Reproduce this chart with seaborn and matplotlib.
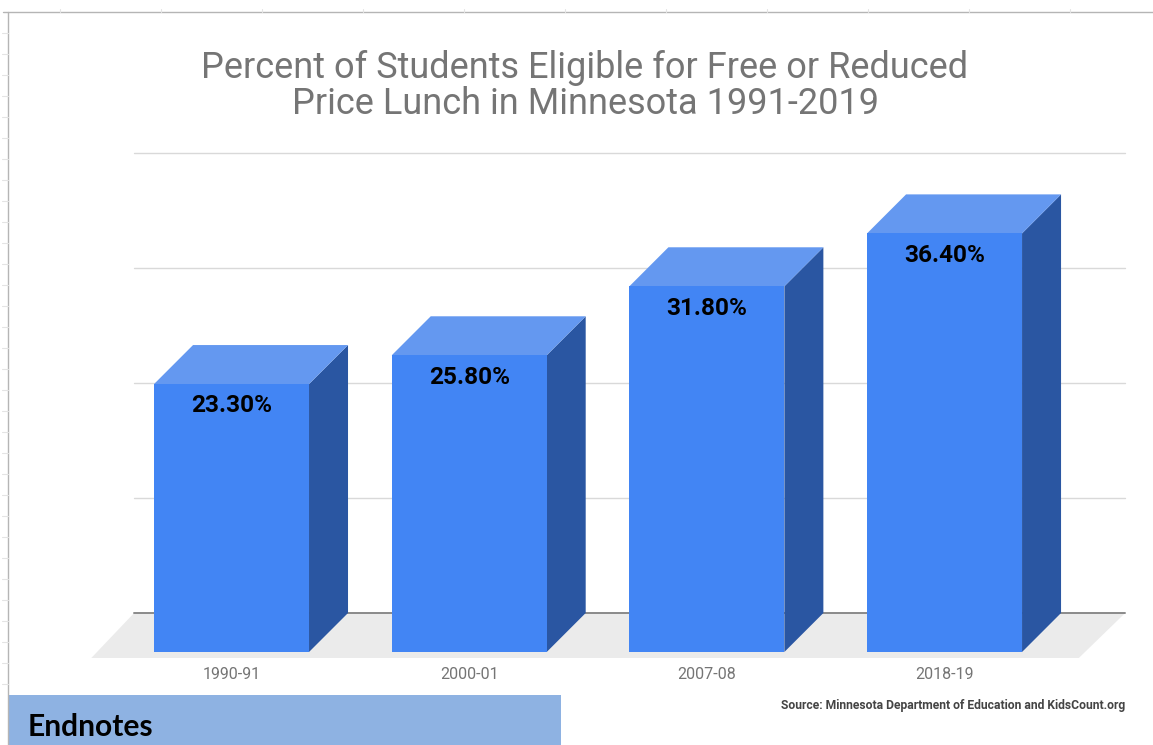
#################################################################
# Import Libraries
#################################################################
import pandas as pd
import matplotlib.pyplot as plt
import seaborn as sns
from matplotlib.lines import Line2D
from matplotlib.patches import Polygon, Rectangle

#################################################################
# Data
#################################################################
years = ["1990-91", "2000-01", "2007-08", "2018-19"]
percents = [23.3, 25.8, 31.8, 36.4]
grid_values = [0, 10, 20, 30, 40]

title_text = "Percent of Students Eligible for Free or Reduced\nPrice Lunch in Minnesota 1991-2019"
source_text = "Source: Minnesota Department of Education and KidsCount.org"

#################################################################
# Figure setup
#################################################################
W, H = 1153, 745
FRONT = "#4285F4"
TOP = "#6498F0"
SIDE = "#2A56A2"
FLOOR = "#EBEBEB"

sns.set_theme(style="white")
plt.rcParams["font.family"] = ["Roboto", "DejaVu Sans"]

fig = plt.figure(figsize=(W / 100, H / 100), dpi=100, facecolor="white")

# plot area in pixels, y=0 sits on the front edge of the bars
ax_left, ax_right = 112.7, 1063.4
ax_top, ax_bottom = 153, 652
ax = fig.add_axes([ax_left / W, 1 - ax_bottom / H,
                   (ax_right - ax_left) / W, (ax_bottom - ax_top) / H])
ax.patch.set_alpha(0)

df = pd.DataFrame({"Year": years, "Percent": percents})
sns.barplot(data=df, x="Year", y="Percent", color=FRONT, saturation=1,
            width=0.652, linewidth=0, ax=ax, zorder=5)

ax.set_xlim(-0.5, 3.5)
ax.set_ylim(0, 43.39)
ax.set_xlabel("")
ax.set_ylabel("")
ax.set_yticks([])
sns.despine(ax=ax, left=True, bottom=True)
ax.tick_params(axis="x", length=0, pad=10.5, labelsize=11.5, labelcolor="#757575")

# 3D depth of the fake box, in data units
depth_x = 39 / 237.67
depth_y = 39 / 11.5

#################################################################
# Floor and back wall gridlines
#################################################################
floor = Polygon([(-0.59, -0.52), (3.565, -0.52), (3.76, depth_y), (-0.41, depth_y)],
                closed=True, facecolor=FLOOR, edgecolor="none", zorder=1, clip_on=False)
ax.add_patch(floor)

for v in grid_values:
    col = "#8A8A8A" if v == 0 else "#D9D9D9"
    ax.plot([-0.41, 3.76], [v + depth_y, v + depth_y], color=col,
            lw=1.4 if v == 0 else 1.0, zorder=2, clip_on=False)

#################################################################
# Bar sides, tops and labels
#################################################################
for bar, value in zip(ax.patches, percents):
    x0 = bar.get_x()
    x1 = x0 + bar.get_width()
    h = bar.get_height()
    side = Polygon([(x1, 0), (x1 + depth_x, depth_y), (x1 + depth_x, h + depth_y), (x1, h)],
                   closed=True, facecolor=SIDE, edgecolor="none", zorder=4, clip_on=False)
    top = Polygon([(x0, h), (x0 + depth_x, h + depth_y), (x1 + depth_x, h + depth_y), (x1, h)],
                  closed=True, facecolor=TOP, edgecolor="none", zorder=4, clip_on=False)
    ax.add_patch(side)
    ax.add_patch(top)
    ax.text((x0 + x1) / 2, h - 1.9, "{:.2f}%".format(value), ha="center", va="center",
            fontsize=17.6, fontweight="bold", color="black", zorder=6)

#################################################################
# Title and source
#################################################################
fig.text(585 / W, 1 - 85.5 / H, title_text, ha="center", va="center", fontsize=26,
         color="#757575", linespacing=1.0)
fig.text(1125 / W, 1 - 705 / H, source_text, ha="right", va="center", fontsize=8.7,
         fontweight="bold", color="#444444")

#################################################################
# Spreadsheet frame behind the chart and Endnotes box
#################################################################
fig.add_artist(Line2D([8 / W, 8 / W], [0, 1 - 12 / H], color="#B5B5B5", lw=1))
fig.add_artist(Line2D([3 / W, 1], [1 - 12 / H, 1 - 12 / H], color="#B5B5B5", lw=1))
for py in range(33, 700, 21):
    fig.add_artist(Line2D([2 / W, 8 / W], [1 - py / H, 1 - py / H], color="#E4E4E4", lw=0.8))
for px in range(60, W, 101):
    fig.add_artist(Line2D([px / W, px / W], [1 - 12 / H, 1 - 9 / H], color="#E4E4E4", lw=0.8))

fig.add_artist(Rectangle((8 / W, 0), 553 / W, 50 / H, transform=fig.transFigure,
                         facecolor="#8EB2E2", edgecolor="none"))
fig.text(28 / W, 1 - 726.5 / H, "Endnotes", ha="left", va="center", fontsize=21.6,
         fontweight="bold", color="black", family=["Lato", "DejaVu Sans"])

fig.savefig("out.png", dpi=100)
